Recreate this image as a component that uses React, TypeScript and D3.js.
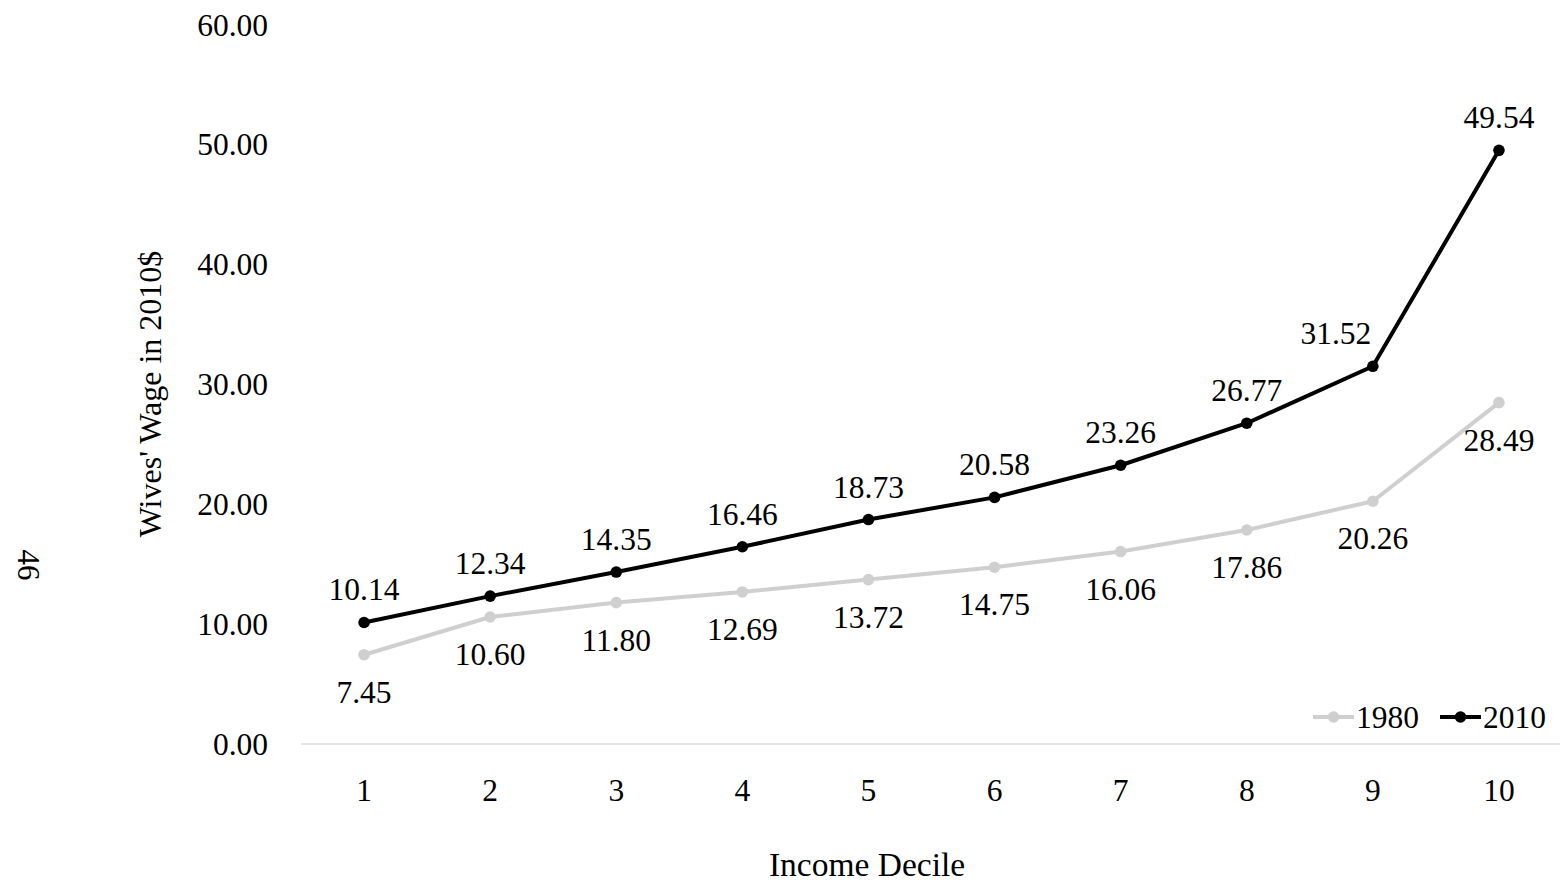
import React from "react";
import * as d3 from "d3";

const deciles = [1, 2, 3, 4, 5, 6, 7, 8, 9, 10];
const wage1980 = [7.45, 10.6, 11.8, 12.69, 13.72, 14.75, 16.06, 17.86, 20.26, 28.49];
const wage2010 = [10.14, 12.34, 14.35, 16.46, 18.73, 20.58, 23.26, 26.77, 31.52, 49.54];
const yTicks = [0, 10, 20, 30, 40, 50, 60];
const seriesNames = ["1980", "2010"];

const W = 1560;
const H = 882;
const FONT = "'Liberation Serif', 'Times New Roman', serif";
const GRAY = "#cfcfcf";
const BLACK = "#000000";
const NUM_FS = 31.5;
const TITLE_FS = 33.5;

export default function App() {
  const x = d3.scaleBand<number>().domain(deciles).range([301, 1562]);
  const cx = (d: number) => (x(d) as number) + x.bandwidth() / 2;
  const y = d3.scaleLinear().domain([0, 60]).range([744, 25]);

  const line = d3
    .line<number>()
    .x((_, i) => cx(deciles[i]))
    .y((v) => y(v));

  const series = [
    { name: seriesNames[0], values: wage1980, color: GRAY, labelDy: 48 },
    { name: seriesNames[1], values: wage2010, color: BLACK, labelDy: -22 },
  ];

  // label nudge for the 2010 decile-9 label (placed left of the steep segment)
  const labelDx = (si: number, i: number) => (si === 1 && i === 8 ? -37 : 0);

  return (
    <svg
      width={W}
      height={H}
      style={{ position: "absolute", left: 0, top: 0, background: "#fff" }}
      fontFamily={FONT}
    >
      <rect x={0} y={0} width={W} height={H} fill="#fff" />
      {/* page number */}
      <text
        transform={`translate(28,565) rotate(90)`}
        textAnchor="middle"
        dominantBaseline="central"
        fontSize={31}
        fill="#000"
      >
        46
      </text>

      {/* y tick labels */}
      {yTicks.map((t) => (
        <text
          key={t}
          x={268}
          y={y(t)}
          textAnchor="end"
          dominantBaseline="central"
          fontSize={NUM_FS}
          fill="#000"
        >
          {t.toFixed(2)}
        </text>
      ))}

      {/* x axis line */}
      <line x1={301} x2={1562} y1={y(0)} y2={y(0)} stroke="#d9d9d9" strokeWidth={1.5} />

      {/* x tick labels */}
      {deciles.map((d) => (
        <text key={d} x={cx(d)} y={801} textAnchor="middle" fontSize={NUM_FS} fill="#000">
          {d}
        </text>
      ))}

      {/* axis titles */}
      <text
        transform={`translate(161,394) rotate(-90)`}
        textAnchor="middle"
        fontSize={32}
        fill="#000"
      >
        Wives' Wage in 2010$
      </text>
      <text x={867} y={876} textAnchor="middle" fontSize={TITLE_FS} fill="#000">
        Income Decile
      </text>

      {/* series */}
      {series.map((s, si) => (
        <g key={s.name}>
          <path d={line(s.values) || ""} fill="none" stroke={s.color} strokeWidth={4} strokeLinejoin="round" />
          {s.values.map((v, i) => (
            <circle key={i} cx={cx(deciles[i])} cy={y(v)} r={5.8} fill={s.color} />
          ))}
          {s.values.map((v, i) => (
            <text
              key={"l" + i}
              x={cx(deciles[i]) + labelDx(si, i)}
              y={y(v) + s.labelDy}
              textAnchor="middle"
              fontSize={NUM_FS}
              fill="#000"
            >
              {v.toFixed(2)}
            </text>
          ))}
        </g>
      ))}

      {/* legend */}
      {series.map((s, i) => {
        const lx = i === 0 ? 1313 : 1440;
        return (
          <g key={"lg" + s.name}>
            <line x1={lx} x2={lx + 41} y1={717} y2={717} stroke={s.color} strokeWidth={4} />
            <circle cx={lx + 20.5} cy={717} r={5.8} fill={s.color} />
            <text x={lx + 43} y={717} dominantBaseline="central" fontSize={NUM_FS} fill="#000">
              {s.name}
            </text>
          </g>
        );
      })}
    </svg>
  );
}
